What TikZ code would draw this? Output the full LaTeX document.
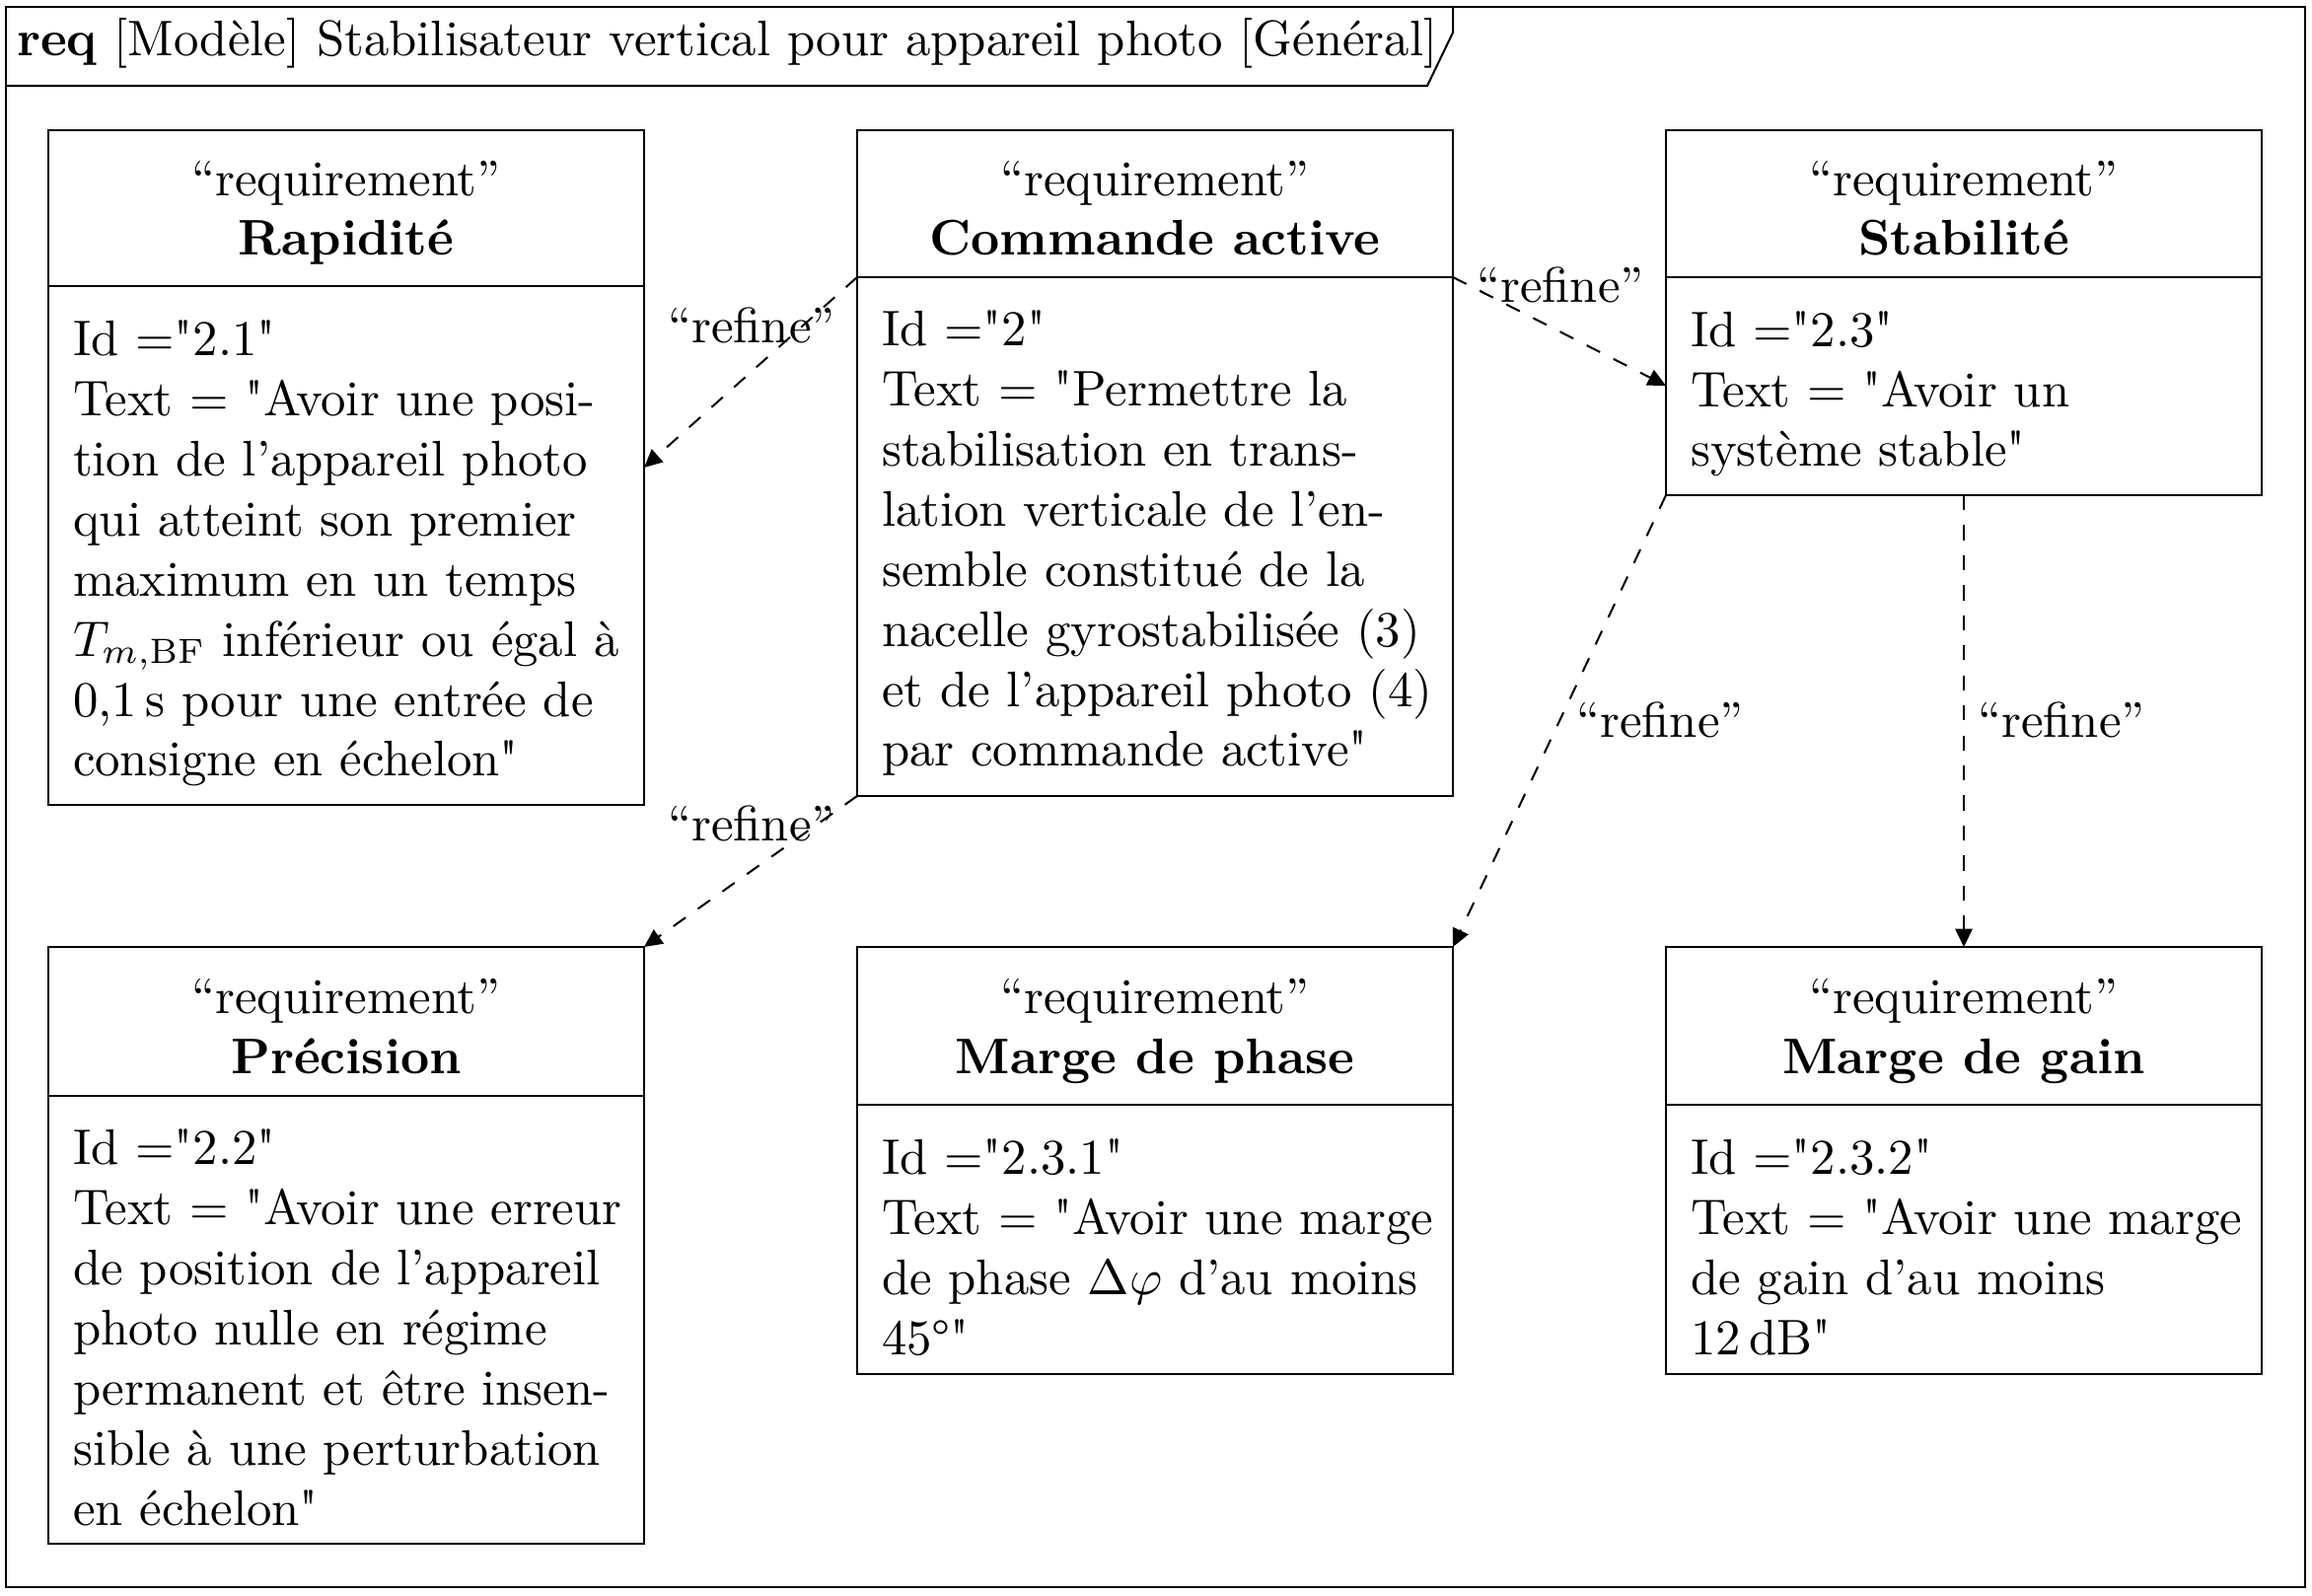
\documentclass[tikz,border=0pt]{standalone}
\usetikzlibrary{arrows.meta}
\newcommand{\uu}{0.1971pt}
\newcommand{\dq}{\XeTeXglyph\XeTeXcharglyph"22\relax}
\begin{document}
\begin{tikzpicture}[x=0.1971pt,y=-0.1971pt,
  reqbox/.style={draw, line width=0.4pt, inner sep=0pt, outer sep=0pt, anchor=north west, minimum width=604*\uu},
  hd/.style={anchor=base, inner sep=0pt},
  hdname/.style={anchor=base, inner sep=0pt, font=\bfseries},
  body/.style={anchor=base west, inner sep=0pt, align=left},
  lbl/.style={anchor=base, inner sep=0pt},
  refine/.style={draw, dashed, line width=0.4pt, -{Triangle[length=3.6pt,width=3.4pt]}}]
\useasboundingbox (0,0) rectangle (2344,1618);

% outer frame and title
\node[draw, line width=0.4pt, inner sep=0pt, outer sep=0pt, anchor=north west,
      minimum width=2331*\uu, minimum height=1602*\uu] (frame) at (6,7) {};
\node[anchor=base west, inner sep=0pt] (title) at (16,57)
  {\textbf{req} [Modèle] Stabilisateur vertical pour appareil photo [Général]};
\draw (frame.west |- 0,87) -- (1447,87) -- (1473,33) -- (1473,7);

% boxes
\node[reqbox, minimum height=684*\uu] (rap) at (49,132) {};
\draw (rap.west |- 0,290) -- (rap.east |- 0,290);
\node[reqbox, minimum height=675*\uu] (cmd) at (869,132) {};
\draw (cmd.west |- 0,281) -- (cmd.east |- 0,281);
\node[reqbox, minimum height=370*\uu] (stab) at (1689,132) {};
\draw (stab.west |- 0,281) -- (stab.east |- 0,281);
\node[reqbox, minimum height=605*\uu] (prec) at (49,960) {};
\draw (prec.west |- 0,1111) -- (prec.east |- 0,1111);
\node[reqbox, minimum height=433*\uu] (phase) at (869,960) {};
\draw (phase.west |- 0,1120) -- (phase.east |- 0,1120);
\node[reqbox, minimum height=433*\uu] (gain) at (1689,960) {};
\draw (gain.west |- 0,1120) -- (gain.east |- 0,1120);

% headers
\node[hd] (rapS) at (351,199) {“requirement”};
\node[hdname] (rapN) at (351,259) {Rapidité};
\node[hd] (cmdS) at (1171,199) {“requirement”};
\node[hdname] (cmdN) at (1171,259) {Commande active};
\node[hd] (stabS) at (1991,199) {“requirement”};
\node[hdname] (stabN) at (1991,259) {Stabilité};
\node[hd] (precS) at (351,1028) {“requirement”};
\node[hdname] (precN) at (351,1088) {Précision};
\node[hd] (phaseS) at (1171,1028) {“requirement”};
\node[hdname] (phaseN) at (1171,1088) {Marge de phase};
\node[hd] (gainS) at (1991,1028) {“requirement”};
\node[hdname] (gainN) at (1991,1088) {Marge de gain};

% bodies (anchored at the baseline of their last line)
\node[body] (rapT) at (73,787) {Id =\dq2.1\dq\\
Text = \dq Avoir une posi-\\
tion de l’appareil photo\\
qui atteint son premier\\
maximum en un temps\\
$T_{m,\mathrm{BF}}$ inférieur ou égal à\\
0,1\,s pour une entrée de\\
consigne en échelon\dq};
\node[body] (cmdT) at (893,777) {Id =\dq2\dq\\
Text = \dq Permettre la\\
stabilisation en trans-\\
lation verticale de l’en-\\
semble constitué de la\\
nacelle gyrostabilisée (3)\\
et de l’appareil photo (4)\\
par commande active\dq};
\node[body] (stabT) at (1713,473) {Id =\dq2.3\dq\\
Text = \dq Avoir un\\
système stable\dq};
\node[body] (precT) at (73,1546) {Id =\dq2.2\dq\\
Text = \dq Avoir une erreur\\
de position de l’appareil\\
photo nulle en régime\\
permanent et être insen-\\
sible à une perturbation\\
en échelon\dq};
\node[body] (phaseT) at (893,1373) {Id =\dq2.3.1\dq\\
Text = \dq Avoir une marge\\
de phase $\Delta\varphi$ d’au moins\\
45°\dq};
\node[body] (gainT) at (1713,1373) {Id =\dq2.3.2\dq\\
Text = \dq Avoir une marge\\
de gain d’au moins\\
12\,dB\dq};

% connectors
\coordinate (cmdL) at (cmd.west |- 0,281);
\coordinate (cmdR) at (cmd.east |- 0,281);
\coordinate (stabB) at (stab.west |- 0,391);
\draw[refine] (cmdL) -- (rap.east);
\draw[refine] (cmdR) -- (stabB);
\draw[refine] (cmd.south west) -- (prec.north east);
\draw[refine] (stab.south west) -- (phase.north east);
\draw[refine] (stab.south) -- (gain.north);

% labels
\node[lbl] (l1) at (762,348) {“refine”};
\node[lbl] (l2) at (1582,307) {“refine”};
\node[lbl] (l3) at (762,853) {“refine”};
\node[lbl] (l4) at (1683,748) {“refine”};
\node[lbl] (l5) at (2090,748) {“refine”};
\end{tikzpicture}
\end{document}
